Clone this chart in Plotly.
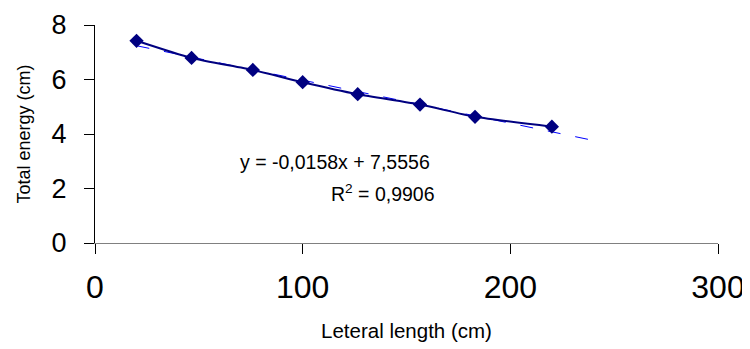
import plotly.graph_objects as go

# Data
lateral_length = [20, 46.5, 76, 100, 126.5, 156.5, 183, 220]
total_energy = [7.42, 6.79, 6.35, 5.90, 5.46, 5.08, 4.63, 4.27]

# Linear trendline as printed on the chart
slope = -0.0158
intercept = 7.5556
trend_x = [20, 244]
trend_y = [slope * x + intercept for x in trend_x]

eq_text = "y = -0,0158x + 7,5556"
r2_text = "R<sup>2</sup> = 0,9906"

x_ticks = [0, 100, 200, 300]
y_ticks = [0, 2, 4, 6, 8]

FONT = "Liberation Sans, Arial, sans-serif"

fig = go.Figure()
fig.add_trace(go.Scatter(
    x=trend_x, y=trend_y, mode="lines",
    line=dict(color="#0000FF", width=1, dash="13px,15px"),
    hoverinfo="skip", showlegend=False,
))
fig.add_trace(go.Scatter(
    x=lateral_length, y=total_energy, mode="lines+markers",
    line=dict(color="#000080", width=2, shape="spline", smoothing=0.6),
    marker=dict(symbol="diamond", size=11, color="#000080"),
    showlegend=False,
))

fig.add_annotation(x=68.8, y=2.97, xref="x", yref="y", text=eq_text,
                   showarrow=False, xanchor="left", yanchor="middle",
                   font=dict(family=FONT, size=19.5, color="#000000"))
fig.add_annotation(x=164.5, y=1.83, xref="x", yref="y", text=r2_text,
                   showarrow=False, xanchor="right", yanchor="middle",
                   font=dict(family=FONT, size=19.5, color="#000000"))

# The page body adds an 8px offset, so the figure is sized 742x341
fig.update_layout(
    width=742, height=341,
    margin=dict(l=87, r=32, t=17, b=106),
    paper_bgcolor="white", plot_bgcolor="white",
    font=dict(family=FONT, color="#000000"),
    showlegend=False,
)
fig.update_xaxes(
    range=[0, 300], tickvals=x_ticks, ticktext=[str(v) for v in x_ticks],
    automargin=False,
    showgrid=False, zeroline=False, showline=True, linecolor="#808080", linewidth=1,
    ticks="outside", ticklen=10, tickcolor="#000000", tickwidth=1,
    tickfont=dict(family=FONT, size=32), ticklabelstandoff=6,
    title=dict(text="Leteral length (cm)", font=dict(family=FONT, size=20.5), standoff=19),
)
fig.update_yaxes(
    range=[0, 8], tickvals=y_ticks, ticktext=[str(v) for v in y_ticks],
    automargin=False,
    showgrid=False, zeroline=False, showline=True, linecolor="#000000", linewidth=1,
    ticks="outside", ticklen=10, tickcolor="#000000", tickwidth=1,
    tickfont=dict(family=FONT, size=27), ticklabelstandoff=12,
    title=dict(text="Total energy (cm)", font=dict(family=FONT, size=18), standoff=16),
)

fig.write_html("out.html")
